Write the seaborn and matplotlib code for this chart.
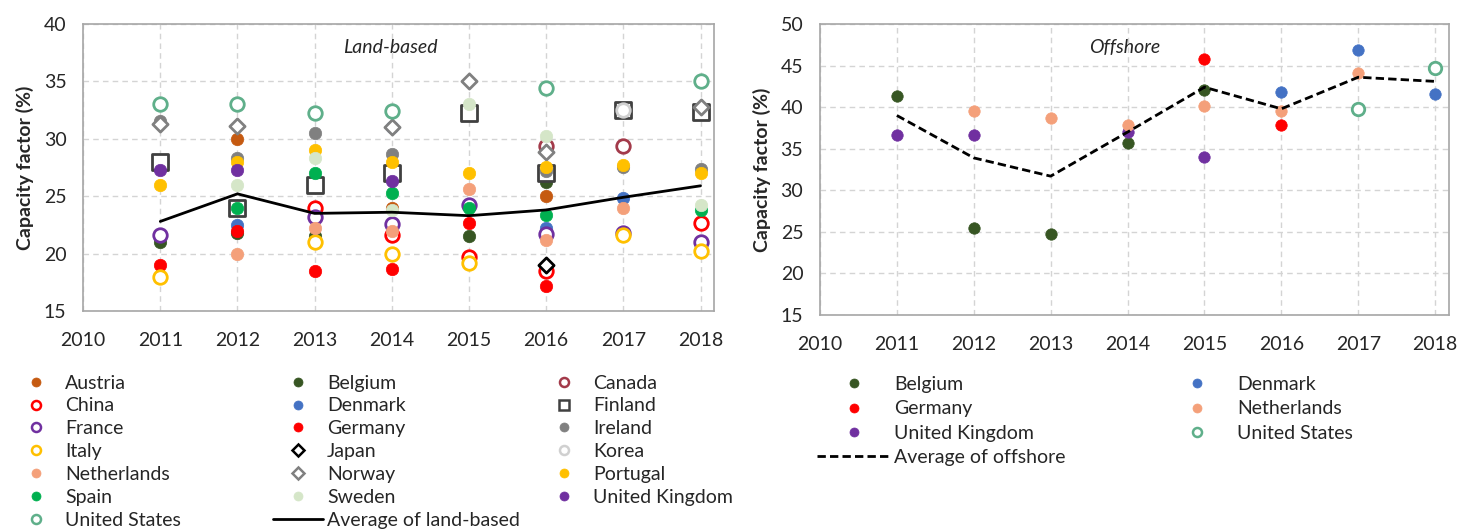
import numpy as np
import pandas as pd
import seaborn as sns
import matplotlib.pyplot as plt
from matplotlib.lines import Line2D

YEARS = [2011, 2012, 2013, 2014, 2015, 2016, 2017, 2018]
N = np.nan

# land-based capacity factor (%), one value per year 2011-2018
AUSTRIA = [N, 30.0, 23.8, 24.0, N, 25.0, N, N]
BELGIUM = [21.0, 21.8, 21.5, N, 21.5, 26.2, N, N]
CANADA = [N, N, N, N, N, 29.4, 29.4, N]
CHINA = [N, N, 24.0, 21.6, 19.7, 18.5, N, 22.7]
DENMARK = [28.0, 22.5, N, 31.0, N, 22.2, 24.8, N]
FINLAND = [28.0, 24.0, 26.0, 27.0, 32.2, 27.0, 32.5, 32.3]
FRANCE = [21.6, N, 23.2, 22.6, 24.2, 21.7, 21.8, 21.0]
GERMANY = [19.0, 22.0, 18.5, 18.7, 22.7, 17.2, N, N]
IRELAND = [31.5, 28.3, 30.5, 28.7, N, 27.2, 27.5, 27.4]
ITALY = [18.0, N, 21.0, 20.0, 19.2, N, 21.6, 20.2]
JAPAN = [N, N, N, N, N, 19.0, N, N]
KOREA = [N, N, N, N, N, N, 32.5, N]
NETHERLANDS = [N, 20.0, 22.2, 22.0, 25.6, 21.2, 24.0, N]
NORWAY = [31.3, 31.1, N, 31.0, 35.0, 28.8, N, 32.8]
PORTUGAL = [26.0, 28.0, 29.0, 28.0, 27.0, 27.5, 27.7, 27.0]
SPAIN = [N, 24.0, 27.0, 25.3, 24.0, 23.4, N, 23.8]
SWEDEN = [N, 26.0, 28.3, 23.8, 33.0, 30.2, N, 24.2]
UK = [27.3, 27.3, N, 26.3, N, N, N, N]
US = [33.0, 33.0, 32.2, 32.4, N, 34.4, N, 35.0]
AVG_LAND = [22.8, 25.2, 23.5, 23.6, 23.3, 23.8, 24.9, 25.9]

# offshore capacity factor (%)
OFF_BELGIUM = [41.3, 25.5, 24.7, 35.7, 42.1, N, N, N]
OFF_GERMANY = [N, N, N, N, 45.8, 37.9, N, N]
OFF_UK = [36.7, 36.7, N, 37.0, 34.0, N, N, N]
OFF_DENMARK = [N, N, N, N, N, 41.8, 46.9, 41.6]
OFF_NETHERLANDS = [N, 39.5, 38.7, 37.8, 40.1, 39.5, 44.1, N]
OFF_US = [N, N, N, N, N, N, 39.8, 44.7]
AVG_OFF = [39.0, 33.9, 31.7, 37.0, 42.4, 39.8, 43.6, 43.1]

# style per country: marker, face, edge
STYLE = {
    'Austria': ('o', '#C55A11', '#C55A11'),
    'Belgium': ('o', '#375623', '#375623'),
    'Canada': ('o', 'white', '#A33A4A'),
    'China': ('o', 'white', '#FF0000'),
    'Denmark': ('o', '#4472C4', '#4472C4'),
    'Finland': ('s', 'white', '#404040'),
    'France': ('o', 'white', '#7030A0'),
    'Germany': ('o', '#FF0000', '#FF0000'),
    'Ireland': ('o', '#808080', '#808080'),
    'Italy': ('o', 'white', '#FFC000'),
    'Japan': ('D', 'white', '#000000'),
    'Korea': ('o', 'white', '#D0D0D0'),
    'Netherlands': ('o', '#F4A07A', '#F4A07A'),
    'Norway': ('D', 'white', '#808080'),
    'Portugal': ('o', '#FFC000', '#FFC000'),
    'Spain': ('o', '#00B050', '#00B050'),
    'Sweden': ('o', '#D5E6C8', '#D5E6C8'),
    'United Kingdom': ('o', '#7030A0', '#7030A0'),
    'United States': ('o', 'white', '#5FAF8A'),
}

LAND = [
    ('Austria', AUSTRIA), ('Belgium', BELGIUM), ('Canada', CANADA),
    ('China', CHINA), ('Denmark', DENMARK), ('Finland', FINLAND),
    ('France', FRANCE), ('Germany', GERMANY), ('Ireland', IRELAND),
    ('Italy', ITALY), ('Japan', JAPAN), ('Korea', KOREA),
    ('Netherlands', NETHERLANDS), ('Norway', NORWAY), ('Portugal', PORTUGAL),
    ('Spain', SPAIN), ('Sweden', SWEDEN), ('United Kingdom', UK),
    ('United States', US),
]
OFFSHORE = [
    ('Belgium', OFF_BELGIUM), ('Germany', OFF_GERMANY), ('United Kingdom', OFF_UK),
    ('Denmark', OFF_DENMARK), ('Netherlands', OFF_NETHERLANDS), ('United States', OFF_US),
]


def to_long(series):
    rows = []
    for name, vals in series:
        for yr, v in zip(YEARS, vals):
            if not np.isnan(v):
                rows.append((name, yr, v))
    return pd.DataFrame(rows, columns=['country', 'year', 'cf'])


def draw_points(ax, df, names, size_scale=1.0):
    for name in names:
        marker, face, edge = STYLE[name]
        sub = df[df['country'] == name]
        if sub.empty:
            continue
        hollow = face == 'white'
        s = {'o': 95, 's': 120, 'D': 60}[marker] if hollow else 80
        sns.scatterplot(data=sub, x='year', y='cf', ax=ax, marker=marker,
                        s=s * size_scale, color=face, edgecolor=edge,
                        linewidth=2.0 if hollow else 0.5, zorder=2, legend=False)


def style_axes(ax, ymin, ymax):
    ax.set_xlim(2010, 2018.18)
    ax.set_ylim(ymin, ymax)
    ax.set_xticks(range(2010, 2019))
    ax.set_yticks(range(ymin, ymax + 1, 5))
    ax.grid(True, color='#D4D4D4', linestyle=(0, (4, 3)), linewidth=1.0)
    ax.set_axisbelow(True)
    for sp in ax.spines.values():
        sp.set_color('#A6A6A6')
        sp.set_linewidth(1.2)
    ax.tick_params(length=0, labelsize=14, colors='#262626')
    ax.tick_params(axis='x', pad=15)
    ax.tick_params(axis='y', pad=12)
    ax.set_xlabel('')
    ax.set_ylabel('Capacity factor (%)', fontsize=14, fontweight='bold', labelpad=7)


def legend_handle(name):
    marker, face, edge = STYLE[name]
    ms = {'o': 6.5, 's': 7, 'D': 6}[marker]
    return Line2D([], [], linestyle='none', marker=marker, markersize=ms,
                  markerfacecolor=face, markeredgecolor=edge,
                  markeredgewidth=1.8 if face == 'white' else 0.5)


sns.set_style('white')
plt.rcParams['font.family'] = ['Lato', 'DejaVu Sans']

fig = plt.figure(figsize=(14.58, 5.29), dpi=100)
ax1 = fig.add_axes([0.057, 0.412, 0.433, 0.543])
ax2 = fig.add_axes([0.5624, 0.4045, 0.4314, 0.5501])

# land-based
land_df = to_long(LAND)
draw_points(ax1, land_df, [n for n, _ in LAND])
avg_land = pd.DataFrame({'year': YEARS, 'cf': AVG_LAND})
sns.lineplot(data=avg_land, x='year', y='cf', ax=ax1, color='black', linewidth=2, zorder=3)
style_axes(ax1, 15, 40)
ax1.text(0.487, 0.918, 'Land-based', transform=ax1.transAxes, fontsize=14,
         fontstyle='italic', ha='center', va='center')

# offshore
off_df = to_long(OFFSHORE)
draw_points(ax2, off_df, [n for n, _ in OFFSHORE], size_scale=0.85)
avg_off = pd.DataFrame({'year': YEARS, 'cf': AVG_OFF})
sns.lineplot(data=avg_off, x='year', y='cf', ax=ax2, color='black', linewidth=2,
             linestyle=(0, (3, 1.5)), zorder=3)
style_axes(ax2, 15, 50)
ax2.text(0.484, 0.918, 'Offshore', transform=ax2.transAxes, fontsize=14,
         fontstyle='italic', ha='center', va='center')

# legends, one per column so column positions can be matched
land_line = Line2D([], [], color='black', linewidth=2)
off_line = Line2D([], [], color='black', linewidth=2, linestyle=(0, (3, 1.5)))

# (x anchor, y anchor, handle length, label spacing, names)
legend_cols = [
    (0.0075, 0.292, 2.6, 0.30, ['Austria', 'China', 'France', 'Italy', 'Netherlands',
                                'Spain', 'United States']),
    (0.187, 0.292, 2.6, 0.30, ['Belgium', 'Denmark', 'Germany', 'Japan', 'Norway',
                               'Sweden', 'Average of land-based']),
    (0.3697, 0.292, 2.6, 0.30, ['Canada', 'Finland', 'Ireland', 'Korea', 'Portugal',
                                'United Kingdom']),
    (0.5604, 0.289, 3.75, 0.37, ['Belgium', 'Germany', 'United Kingdom',
                                 'Average of offshore']),
    (0.796, 0.289, 3.75, 0.37, ['Denmark', 'Netherlands', 'United States']),
]

for x0, y0, hl, ls, names in legend_cols:
    handles = []
    for nm in names:
        if nm == 'Average of land-based':
            handles.append(land_line)
        elif nm == 'Average of offshore':
            handles.append(off_line)
        else:
            handles.append(legend_handle(nm))
    leg = fig.legend(handles, names, loc='upper left', bbox_to_anchor=(x0, y0),
                     frameon=False, fontsize=14, handlelength=hl,
                     handletextpad=0.2, labelspacing=ls, borderpad=0,
                     borderaxespad=0)
    for t in leg.get_texts():
        t.set_color('#262626')

fig.savefig('out.png', dpi=100, facecolor='white')
